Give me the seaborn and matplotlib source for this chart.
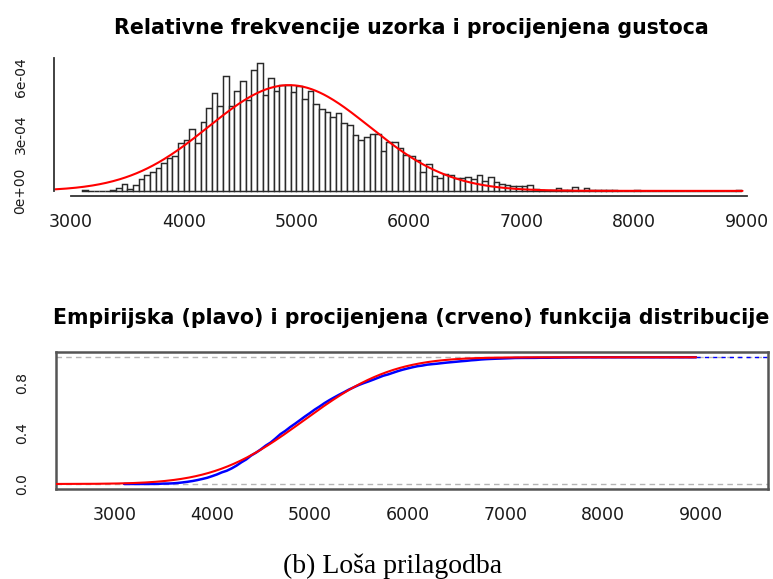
import math
import numpy as np
import pandas as pd
import matplotlib
matplotlib.use("Agg")
import matplotlib.pyplot as plt
import seaborn as sns

# ---------------- data ----------------
bin_first_start = 3100          # left edge of the first histogram bin
bin_width = 50
# relative frequency density of each bin, in units of 1e-4 (bins 3100 ... 8900)
density_e4 = [
    0.03, 0.00, 0.00, 0.00, 0.00, 0.04, 0.14, 0.38, 0.09, 0.32,   # 3100-3550
    0.61, 0.84, 0.98, 1.20, 1.46, 1.72, 1.86, 2.50,               # 3600-3950
    2.68, 3.27, 2.51, 3.65, 4.36, 5.19, 4.50, 6.07, 4.49, 5.25,   # 4000-4450
    5.80, 4.79, 6.38, 6.73, 5.05, 5.94, 5.28, 5.56, 5.60, 5.24,   # 4500-4950
    5.53, 4.84, 5.26, 4.61, 4.30, 4.18, 3.91, 4.12, 3.56, 3.47,   # 5000-5450
    2.95, 2.68, 2.86, 2.98, 3.00, 2.08, 2.58, 2.56, 2.28, 1.89,   # 5500-5950
    1.85, 1.64, 1.02, 1.42, 0.79, 0.70, 0.89, 0.84, 0.69, 0.69,   # 6000-6450
    0.75, 0.61, 0.82, 0.54, 0.75, 0.49, 0.37, 0.32, 0.26, 0.28,   # 6500-6950
    0.28, 0.33, 0.09, 0.05, 0.02, 0.03, 0.14, 0.05, 0.05, 0.19,   # 7000-7450
    0.02, 0.14, 0.07, 0.07, 0.07, 0.03, 0.03, 0.00, 0.00, 0.00,   # 7500-7950
    0.03, 0.00, 0.00, 0.00, 0.00, 0.00, 0.00, 0.00, 0.00, 0.00,   # 8000-8450
    0.00, 0.00, 0.00, 0.00, 0.00, 0.00, 0.00, 0.00, 0.03,         # 8500-8900
]
# fitted normal distribution (red curves)
fit_mean = 4935.0
fit_sd = 715.0

top_xticks = [3000, 4000, 5000, 6000, 7000, 8000, 9000]
top_yticks = [0, 1e-4, 2e-4, 3e-4, 4e-4, 5e-4, 6e-4, 7e-4]
top_ylabels = ["0e+00", "", "", "3e-04", "", "", "6e-04", ""]
bot_xticks = [3000, 4000, 5000, 6000, 7000, 8000, 9000]
bot_yticks = [0.0, 0.2, 0.4, 0.6, 0.8, 1.0]
bot_ylabels = ["0.0", "", "0.4", "", "0.8", ""]

title_top = "Relativne frekvencije uzorka i procijenjena gustoca"
title_bot = "Empirijska (plavo) i procijenjena (crveno) funkcija distribucije"
caption = "(b) Loša prilagodba"

# ---------------- derived tables ----------------
n_bins = len(density_e4)
edges = bin_first_start + bin_width * np.arange(n_bins + 1)
dens = np.array(density_e4) * 1e-4
hist_df = pd.DataFrame({"x": edges[:-1] + bin_width / 2, "w": dens})

cum = np.concatenate([[0.0], np.cumsum(dens * bin_width)])
cum = cum / cum[-1]
ecdf_df = pd.DataFrame({"x": edges, "F": cum})

def norm_pdf(x):
    return np.exp(-0.5 * ((x - fit_mean) / fit_sd) ** 2) / (fit_sd * math.sqrt(2 * math.pi))

def norm_cdf(x):
    return np.array([0.5 * (1 + math.erf((v - fit_mean) / (fit_sd * math.sqrt(2)))) for v in x])

# ---------------- figure ----------------
sns.set_theme(style="white")
plt.rcParams["font.family"] = ["DejaVu Sans"]

W, H = 773, 579
fig = plt.figure(figsize=(W / 100, H / 100), dpi=100)

def rect(l, t, r, b):
    return [l / W, 1 - b / H, (r - l) / W, (b - t) / H]

ax1 = fig.add_axes(rect(54, 58.2, 768, 196))
ax2 = fig.add_axes(rect(55.7, 351.7, 767.7, 489.3))

axis_col = "#333333"
text_col = "#1a1a1a"

# --- top: histogram + fitted density ---
sns.histplot(data=hist_df, x="x", weights="w", bins=[float(e) for e in edges],
             stat="count", fill=True, color="white", edgecolor="#2a2a2a",
             linewidth=1.05, alpha=1.0, ax=ax1)
xs_top = np.linspace(2860, 8960, 500)
sns.lineplot(x=xs_top, y=norm_pdf(xs_top), color="#ff0000", linewidth=1.5,
             ax=ax1, sort=False)

ax1.set_xlim(2849, 9186)
ax1.set_ylim(-0.27e-4, 6.99e-4)
ax1.set_xlabel("")
ax1.set_ylabel("")
for s in ["top", "right"]:
    ax1.spines[s].set_visible(False)
ax1.spines["bottom"].set_bounds(3000, 9000)
ax1.spines["left"].set_bounds(0, 7e-4)
for s in ["bottom", "left"]:
    ax1.spines[s].set_color(axis_col)
    ax1.spines[s].set_linewidth(1.3)
ax1.set_xticks(top_xticks)
ax1.set_xticklabels([str(v) for v in top_xticks])
ax1.set_yticks(top_yticks)
ax1.set_yticklabels(top_ylabels, rotation=90, va="center")
ax1.tick_params(axis="both", direction="out", length=7, width=1.2, color=axis_col,
                labelcolor=text_col)
ax1.tick_params(axis="x", labelsize=12.5, pad=5)
ax1.tick_params(axis="y", labelsize=10, pad=12)
ax1.grid(False)

# --- bottom: ECDF + fitted CDF ---
ax2.axhline(0, color="#b5b5b5", linestyle=(0, (4, 3)), linewidth=1.0, zorder=1)
ax2.axhline(1, color="#b5b5b5", linestyle=(0, (4, 3)), linewidth=1.0, zorder=1)
sns.lineplot(data=ecdf_df, x="x", y="F", color="#0000ff", linewidth=1.8,
             ax=ax2, zorder=2)
ax2.plot([edges[-1], 9682], [1, 1], color="#0000ff", linewidth=1.0,
         linestyle=(0, (3, 3)), zorder=2)
xs_bot = np.linspace(2401, edges[-1], 500)
sns.lineplot(x=xs_bot, y=norm_cdf(xs_bot), color="#ff0000", linewidth=1.5,
             ax=ax2, sort=False, zorder=3)

ax2.set_xlim(2401, 9682)
ax2.set_ylim(-0.042, 1.044)
ax2.set_xlabel("")
ax2.set_ylabel("")
for s in ax2.spines.values():
    s.set_visible(True)
    s.set_color("#555555")
    s.set_linewidth(1.8)
ax2.set_xticks(bot_xticks)
ax2.set_xticklabels([str(v) for v in bot_xticks])
ax2.set_yticks(bot_yticks)
ax2.set_yticklabels(bot_ylabels, rotation=90, va="center")
ax2.tick_params(axis="both", direction="out", length=7, width=1.2, color=axis_col,
                labelcolor=text_col)
ax2.tick_params(axis="x", labelsize=12.5, pad=5)
ax2.tick_params(axis="y", labelsize=10, pad=12)
ax2.grid(False)

# --- titles and caption ---
fig.text(411 / W, 1 - 28 / H, title_top, ha="center", va="center",
         fontsize=14.8, fontweight="bold", color="black")
fig.text(411 / W, 1 - 318 / H, title_bot, ha="center", va="center",
         fontsize=14.8, fontweight="bold", color="black")
fig.text(392.5 / W, 1 - 566 / H, caption, ha="center", va="center",
         fontsize=20, family=["Liberation Serif", "DejaVu Serif"], color="black")

fig.savefig("out.png", dpi=100)
